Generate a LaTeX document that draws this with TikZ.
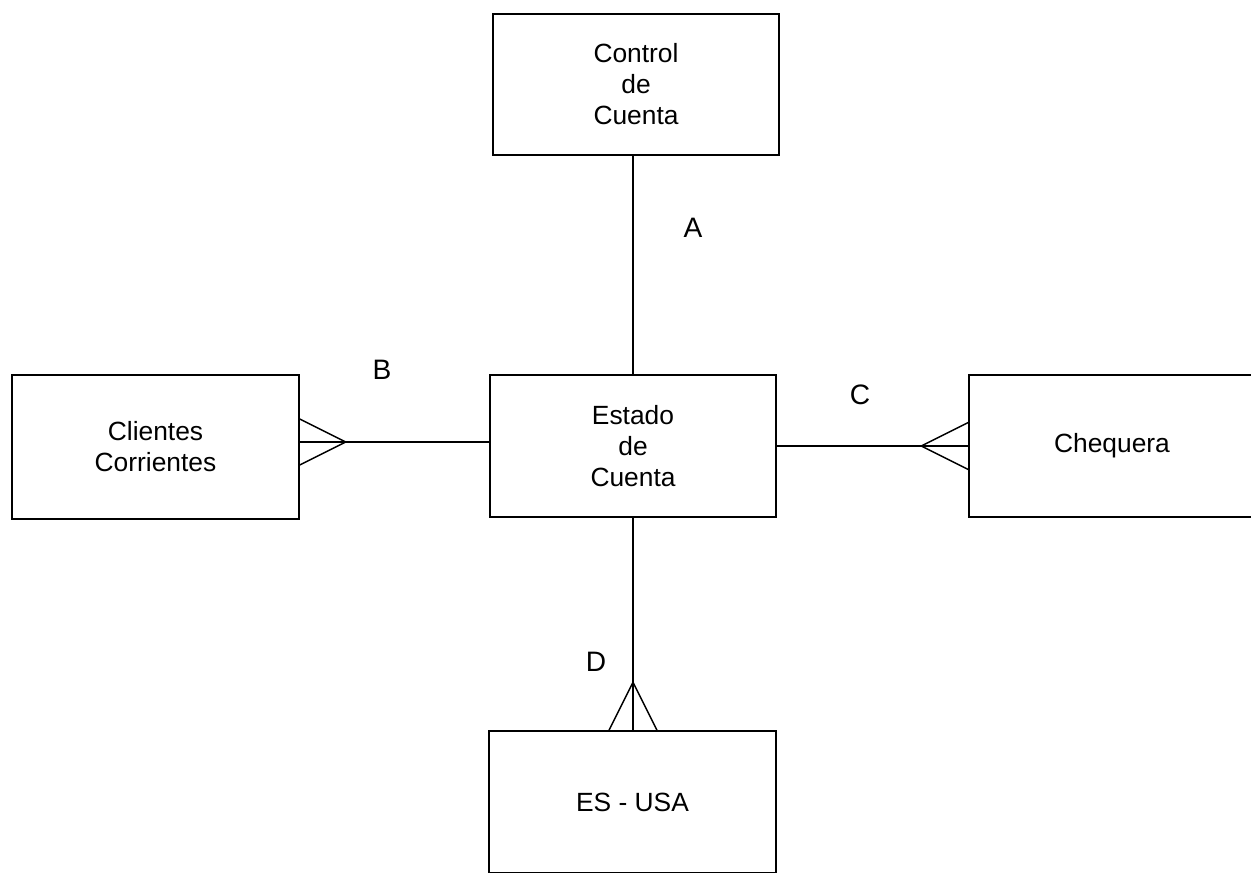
\documentclass[tikz,border=0pt]{standalone}
\usepackage{fontspec}
\setmainfont{Liberation Sans}
\usetikzlibrary{calc}
\tikzset{
    entity/.style={draw, line width=0.8pt, align=center, minimum width=5.72cm,
        minimum height=2.84cm, inner sep=0pt},
    rel/.style={line width=0.8pt},
    tag/.style={font=\fontsize{16}{19}\selectfont}
}
\begin{document}
\begin{tikzpicture}[font=\fontsize{15}{17.6}\selectfont]
    \useasboundingbox (0,0) rectangle (25.02,-17.46);
    \clip (0,0) rectangle (25.02,-17.46);

    \node[entity, minimum height=2.82cm] (control) at (12.72,-1.69) {Control\\de\\Cuenta};
    \node[entity] (estado) at (12.66,-8.92) {Estado\\de\\Cuenta};
    \node[entity, minimum width=5.74cm, minimum height=2.88cm] (clientes) at (3.11,-8.94) {Clientes\\Corrientes};
    \node[entity] (chequera) at (22.24,-8.92) {Chequera};
    \node[entity, minimum width=5.74cm] (esusa) at (12.65,-16.04) {ES - USA};

    % relaciones
    \draw[rel] (estado.north) -- (estado.north |- control.south);
    \draw[rel] ($(estado.west)+(0,0.08)$) -- ($(estado.west -| clientes.east)+(0,0.08)$);
    \draw[rel] (estado.east) -- (estado.east -| chequera.west);
    \draw[rel] (estado.south) -- (estado.south |- esusa.north);

    % patas de gallo
    \coordinate (pb) at ($(estado.west -| clientes.east)+(0,0.08)$);
    \draw[rel] ($(pb)+(0,0.46)$) -- ($(pb)+(0.92,0)$) -- ($(pb)+(0,-0.46)$);
    \coordinate (pc) at (estado.east -| chequera.west);
    \draw[rel] ($(pc)+(0,0.47)$) -- ($(pc)+(-0.94,0)$) -- ($(pc)+(0,-0.47)$);
    \coordinate (pd) at (estado.south |- esusa.north);
    \draw[rel] ($(pd)+(-0.48,0)$) -- ($(pd)+(0,0.96)$) -- ($(pd)+(0.48,0)$);

    \node[tag] (la) at (13.86,-4.56) {A};
    \node[tag] (lb) at (7.64,-7.40) {B};
    \node[tag] (lc) at (17.20,-7.90) {C};
    \node[tag] (ld) at (11.92,-13.24) {D};
\end{tikzpicture}
\end{document}
